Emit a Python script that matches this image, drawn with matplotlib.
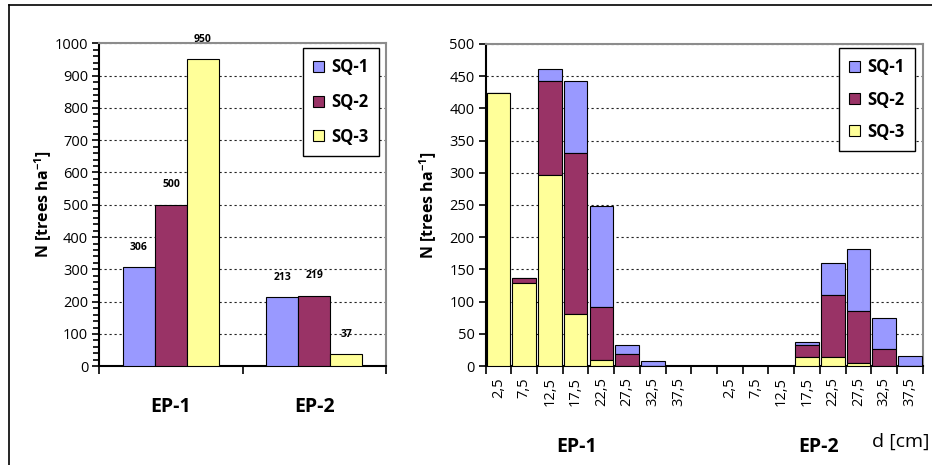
import numpy as np
import matplotlib.pyplot as plt
from matplotlib.lines import Line2D
from matplotlib.ticker import MultipleLocator

plt.rcParams['font.family'] = ['Open Sans', 'DejaVu Sans']
plt.rcParams['mathtext.fontset'] = 'custom'
plt.rcParams['mathtext.rm'] = 'Open Sans'
plt.rcParams['mathtext.bf'] = 'Open Sans:bold'

# left panel: total number of trees per plot and site quality
plots = ['EP-1', 'EP-2']
series = ['SQ-1', 'SQ-2', 'SQ-3']
colors = ['#9999ff', '#993366', '#ffff99']
n_sq1 = [306, 213]
n_sq2 = [500, 219]
n_sq3 = [950, 37]

# right panel: diameter distribution (stacked), EP-1 then EP-2
d_classes = ['2,5', '7,5', '12,5', '17,5', '22,5', '27,5', '32,5', '37,5']
ep1_sq1 = [0, 0, 19, 112, 156, 15, 7, 0]
ep1_sq2 = [0, 8, 145, 249, 82, 18, 0, 0]
ep1_sq3 = [424, 129, 297, 81, 10, 0, 0, 0]
ep2_sq1 = [0, 0, 0, 4, 49, 97, 48, 15]
ep2_sq2 = [0, 0, 0, 19, 97, 81, 26, 0]
ep2_sq3 = [0, 0, 0, 14, 14, 4, 0, 0]

fig = plt.figure(figsize=(9.32, 4.65), dpi=100)
ax1 = fig.add_axes([0.1066, 0.2123, 0.3073, 0.6946])
ax2 = fig.add_axes([0.5211, 0.2129, 0.4689, 0.6925])

grid_kw = dict(color='#222222', lw=0.8, ls=(0, (2, 2.5)))

def style_frame(ax):
    ax.spines['left'].set_color('black')
    ax.spines['bottom'].set_color('black')
    ax.spines['left'].set_linewidth(1.5)
    ax.spines['bottom'].set_linewidth(1.5)
    for s in ['top', 'right']:
        ax.spines[s].set_color('#8c8c8c')
        ax.spines[s].set_linewidth(1.5)
    ax.set_axisbelow(True)
    ax.yaxis.grid(True, **grid_kw)

# ---- left panel
x = np.arange(len(plots))
w = 0.223
for i, vals in enumerate([n_sq1, n_sq2, n_sq3]):
    b = ax1.bar(x + (i - 1) * w, vals, w, color=colors[i], edgecolor='black',
                lw=0.8, label=series[i], zorder=3)
    ax1.bar_label(b, padding=10.5, fontsize=7.5, fontweight='bold')

ax1.set_xlim(-0.5, 1.5)
ax1.set_ylim(0, 1000)
ax1.yaxis.set_major_locator(MultipleLocator(100))
ax1.yaxis.set_minor_locator(MultipleLocator(20))
ax1.tick_params(axis='y', which='major', length=5, width=1.2, labelsize=10.5, pad=3)
ax1.tick_params(axis='y', which='minor', length=4, width=1.2)
ax1.set_xticks([-0.5, 0.5, 1.5])
ax1.set_xticklabels([])
ax1.set_xticks(x, minor=True)
ax1.set_xticklabels(plots, minor=True, fontsize=14, fontweight='bold')
ax1.tick_params(axis='x', which='major', length=6, width=1.2)
ax1.tick_params(axis='x', which='minor', length=0, pad=22)
style_frame(ax1)
ax1.set_ylabel(r'N [trees ha$^{\mathbf{-1}}$]', fontsize=11.5, fontweight='bold')
ax1.yaxis.set_label_coords(-0.16, 0.5)
leg1 = ax1.legend(loc='upper right', bbox_to_anchor=(379 / 932, 1 - 48 / 465),
                  bbox_transform=fig.transFigure, borderaxespad=0, fancybox=False,
                  edgecolor='black', framealpha=1, handlelength=0.65,
                  handleheight=0.65, handletextpad=0.45, labelspacing=1.0,
                  borderpad=0.62, prop={'size': 12, 'weight': 'bold'})
leg1.get_frame().set_linewidth(1.0)

# ---- right panel
pos = np.concatenate([np.arange(8), np.arange(9, 17)])
s3 = np.array(ep1_sq3 + ep2_sq3)
s2 = np.array(ep1_sq2 + ep2_sq2)
s1 = np.array(ep1_sq1 + ep2_sq1)
bw = 0.92
ax2.bar(pos, s1, bw, bottom=s3 + s2, color=colors[0], edgecolor='black', lw=0.8,
        label=series[0], zorder=3)
ax2.bar(pos, s2, bw, bottom=s3, color=colors[1], edgecolor='black', lw=0.8,
        label=series[1], zorder=3)
ax2.bar(pos, s3, bw, color=colors[2], edgecolor='black', lw=0.8,
        label=series[2], zorder=3)

ax2.set_xlim(-0.5, 16.5)
ax2.set_ylim(0, 500)
ax2.yaxis.set_major_locator(MultipleLocator(50))
ax2.tick_params(axis='y', length=5, width=1.2, labelsize=10.5, pad=3)
ax2.set_xticks(np.arange(-0.5, 17, 1))
ax2.set_xticklabels([])
ax2.set_xticks(pos, minor=True)
ax2.set_xticklabels(d_classes + d_classes, minor=True, rotation=90, fontsize=10.5)
ax2.tick_params(axis='x', which='major', length=6, width=1.2)
ax2.tick_params(axis='x', which='minor', length=0, pad=8)
style_frame(ax2)
ax2.set_ylabel(r'N [trees ha$^{\mathbf{-1}}$]', fontsize=11.5, fontweight='bold')
ax2.yaxis.set_label_coords(-0.107, 0.5)
leg2 = ax2.legend(loc='upper right', bbox_to_anchor=(915 / 932, 1 - 48 / 465),
                  bbox_transform=fig.transFigure, borderaxespad=0, fancybox=False,
                  edgecolor='black', framealpha=1, handlelength=0.65,
                  handleheight=0.65, handletextpad=0.45, labelspacing=0.85,
                  borderpad=0.62, prop={'size': 12, 'weight': 'bold'})
leg2.get_frame().set_linewidth(1.0)

fig.text(577 / 932, 1 - 447 / 465, 'EP-1', ha='center', va='center',
         fontsize=14, fontweight='bold')
fig.text(819 / 932, 1 - 447 / 465, 'EP-2', ha='center', va='center',
         fontsize=14, fontweight='bold')
fig.text(0.997, 1 - 442 / 465, 'd [cm]', ha='right', va='center', fontsize=14)

# outer frame (top and left edges visible)
fig.add_artist(Line2D([9 / 932, 1], [1 - 5 / 465] * 2, color='black', lw=1.2,
                      transform=fig.transFigure))
fig.add_artist(Line2D([9 / 932] * 2, [0, 1 - 5 / 465], color='black', lw=1.2,
                      transform=fig.transFigure))

fig.savefig('out.png', dpi=100)
